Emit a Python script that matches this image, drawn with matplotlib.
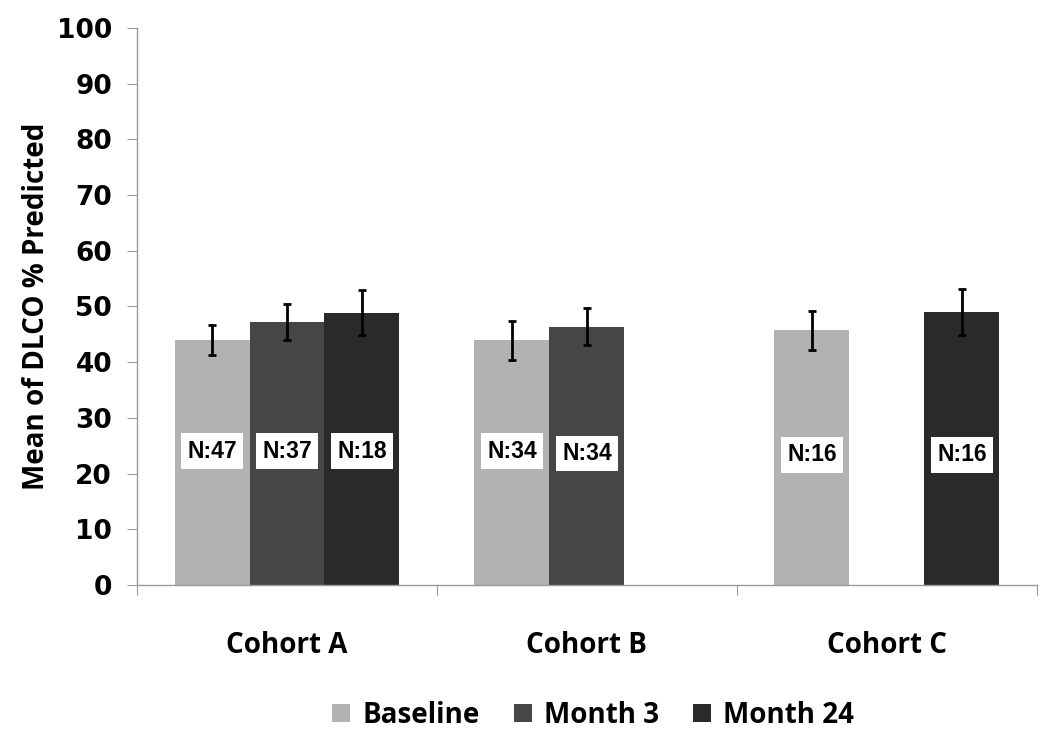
import numpy as np
import matplotlib.pyplot as plt
from matplotlib.patches import Patch

cohorts = ["Cohort A", "Cohort B", "Cohort C"]
series = ["Baseline", "Month 3", "Month 24"]
colors = ["#b2b2b2", "#464646", "#2a2a2a"]

# mean DLCO % predicted per series (nan = not measured)
baseline = [43.9, 43.9, 45.7]
month3 = [47.2, 46.4, np.nan]
month24 = [48.9, np.nan, 49.0]

baseline_err = [2.7, 3.5, 3.5]
month3_err = [3.3, 3.4, np.nan]
month24_err = [4.0, np.nan, 4.1]

baseline_n = ["N:47", "N:34", "N:16"]
month3_n = ["N:37", "N:34", None]
month24_n = ["N:18", None, "N:16"]

values = [baseline, month3, month24]
errors = [baseline_err, month3_err, month24_err]
counts = [baseline_n, month3_n, month24_n]
label_y = [[24, 24, 23.4], [24, 23.6, None], [24, None, 23.4]]

word_font = "Open Sans"

fig = plt.figure(figsize=(10.5, 7.36), dpi=100, facecolor="white")
ax = fig.add_axes([0.1305, 0.2052, 0.857, 0.7568])

width = 0.25
centers = np.arange(len(cohorts)) + 0.5
offsets = [-width, 0, width]

for i, name in enumerate(series):
    for j, c in enumerate(centers):
        v = values[i][j]
        if np.isnan(v):
            continue
        x = c + offsets[i]
        ax.bar(x, v, width=width, color=colors[i], edgecolor="none", zorder=2)
        ax.errorbar(x, v, yerr=errors[i][j], fmt="none", ecolor="black",
                    elinewidth=2, capsize=3, capthick=2, zorder=3)
        ax.text(x, label_y[i][j], counts[i][j], ha="center", va="center",
                fontsize=16.5, fontweight="bold", family="Liberation Sans",
                bbox=dict(boxstyle="square,pad=0.28", fc="white", ec="none"),
                zorder=4)

ax.set_xlim(0, 3)
ax.set_ylim(0, 100)
ax.set_yticks(range(0, 101, 10))
ax.set_xticks([0, 1, 2, 3])
ax.set_xticklabels([])
ax.set_xticks(centers, minor=True)
ax.set_xticklabels(cohorts, minor=True, fontsize=20, fontweight="bold",
                   family=word_font)

ax.tick_params(axis="x", which="major", length=7, color="#9a9a9a", direction="out")
ax.tick_params(axis="x", which="minor", length=0, pad=33)
ax.tick_params(axis="y", length=7, color="#9a9a9a", direction="out", pad=11)
for lbl in ax.get_yticklabels():
    lbl.set_fontsize(19)
    lbl.set_fontweight("bold")
    lbl.set_family("DejaVu Sans")

for s in ["top", "right"]:
    ax.spines[s].set_visible(False)
for s in ["left", "bottom"]:
    ax.spines[s].set_color("#9a9a9a")
    ax.spines[s].set_linewidth(1)

ax.set_ylabel("Mean of DLCO % Predicted", fontsize=20, fontweight="bold",
              family=word_font, labelpad=4)

handles = [Patch(facecolor=c, edgecolor="none") for c in colors]
fig.legend(handles, series, loc="center", bbox_to_anchor=(0.565, 0.028),
           ncol=3, frameon=False, handlelength=0.65, handleheight=0.65,
           handletextpad=0.45, columnspacing=1.2,
           prop={"family": word_font, "weight": "bold", "size": 20})

fig.savefig("out.png", dpi=100, facecolor="white")
